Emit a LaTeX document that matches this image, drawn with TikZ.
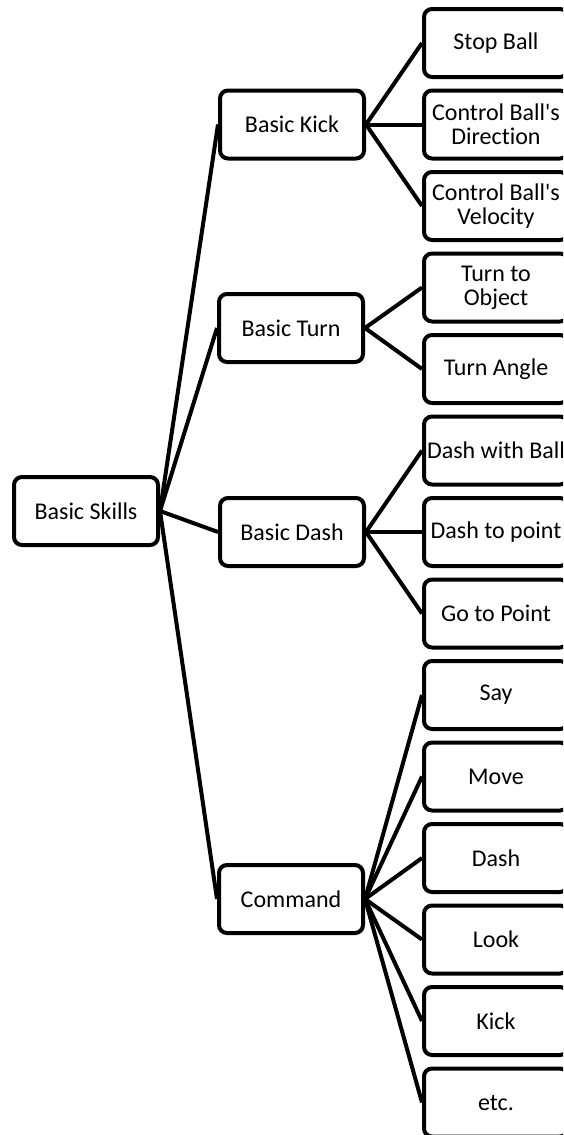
\documentclass[tikz,border=0pt]{standalone}
\usepackage{fontspec}
\setmainfont{Carlito}[Ligatures={TeXOff,CommonOff}]
\usetikzlibrary{positioning}

\begin{document}
\begin{tikzpicture}[
  x=1pt, y=-1pt,
  font=\fontsize{24}{24}\selectfont,
  node distance=9.5pt and 56pt,
  box/.style={
    draw,
    line width=4pt,
    rounded corners=8pt,
    align=center,
    inner sep=2pt,
    minimum height=68pt,
    minimum width=144pt
  },
  link/.style={line width=4pt}
]
\useasboundingbox (0,0) rectangle (563,1135);
\clip (0,0) rectangle (563,1135);

% ================= skill column =================
\node[box] (stop_ball) at (496,43) {Stop Ball};
\node[box, below=of stop_ball] (ctrl_dir) {Control Ball's\\Direction};
\node[box, below=of ctrl_dir] (ctrl_vel) {Control Ball's\\Velocity};
\node[box, below=of ctrl_vel] (turn_obj) {Turn to\\Object};
\node[box, below=of turn_obj] (turn_angle) {Turn Angle};
\node[box, below=of turn_angle] (dash_ball) {Dash with Ball};
\node[box, below=of dash_ball] (dash_point) {Dash to point};
\node[box, below=of dash_point] (go_point) {Go to Point};
\node[box, below=of go_point] (cmd_say) {Say};
\node[box, below=of cmd_say] (cmd_move) {Move};
\node[box, below=of cmd_move] (cmd_dash) {Dash};
\node[box, below=of cmd_dash] (cmd_look) {Look};
\node[box, below=of cmd_look] (cmd_kick) {Kick};
\node[box, below=of cmd_kick] (cmd_etc) {etc.};

% ================= basic groups =================
\node[box, left=of ctrl_dir] (basic_kick) {Basic Kick};
\node[box] (basic_turn) at (291,328) {Basic Turn};
\node[box, left=of dash_point] (basic_dash) {Basic Dash};
\node[box] (command) at (291,899) {Command};

% ================= root =================
\node[box] (basic_skills) at (86,511) {Basic Skills};

\foreach \grp in {basic_kick, basic_turn, basic_dash, command}
  \draw[link] (basic_skills.east) -- (\grp.west);

\foreach \sk in {stop_ball, ctrl_dir, ctrl_vel}
  \draw[link] (basic_kick.east) -- (\sk.west);
\foreach \sk in {turn_obj, turn_angle}
  \draw[link] (basic_turn.east) -- (\sk.west);
\foreach \sk in {dash_ball, dash_point, go_point}
  \draw[link] (basic_dash.east) -- (\sk.west);
\foreach \sk in {cmd_say, cmd_move, cmd_dash, cmd_look, cmd_kick, cmd_etc}
  \draw[link] (command.east) -- (\sk.west);

\end{tikzpicture}
\end{document}
